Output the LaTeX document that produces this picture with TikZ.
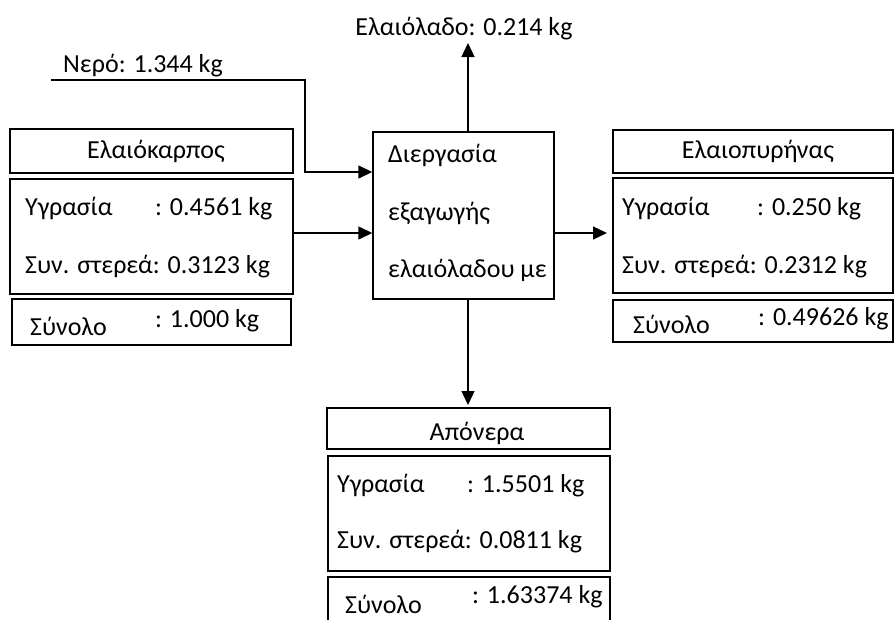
\documentclass[tikz,border=0pt]{standalone}
\usepackage{fontspec}
\setmainfont{Carlito}
\usetikzlibrary{arrows.meta}
\begin{document}
\begin{tikzpicture}[x=1pt,y=-1pt,
  box/.style={draw,line width=1.4pt,rectangle,inner sep=0pt},
  txt/.style={inner sep=0pt,anchor=base west,font=\fontsize{26}{30}\selectfont},
  ttl/.style={inner sep=0pt,anchor=base,font=\fontsize{26}{30}\selectfont},
  flow/.style={line width=1.4pt,-{Triangle[length=14pt,width=13pt]}}]
\useasboundingbox (0,0) rectangle (895,619);
\clip (0,0) rectangle (895,619);

% olive fruit (input)
\node[box,minimum width=283,minimum height=44] (ekT) at (151.5,151) {};
\node[box,minimum width=283,minimum height=115] (ekD) at (151.5,236.5) {};
\node[box,minimum width=279,minimum height=46] (ekS) at (151.5,322) {};
\node[ttl] (ekTt) at (156,158) {Ελαιόκαρπος};
\node[txt] (ekY) at (25,215) {Υγρασία};
\node[txt] (ekYv) at (155,215) {: 0.4561 kg};
\node[txt] (ekC) at (25,273) {Συν. στερεά: 0.3123 kg};
\node[txt] (ekSt) at (30,335) {Σύνολο};
\node[txt] (ekSv) at (155,327) {: 1.000 kg};

% process
\node[box,minimum width=181,minimum height=167] (proc) at (463.5,215.5) {};
\node[txt] (p1) at (388,162) {Διεργασία};
\node[txt] (p2) at (388,220) {εξαγωγής};
\node[txt] (p3) at (388,277) {ελαιόλαδου με};

% pomace (output, right)
\node[box,minimum width=280,minimum height=43] (epT) at (753,151.5) {};
\node[box,minimum width=280,minimum height=115] (epD) at (753,235.5) {};
\node[box,minimum width=280,minimum height=42] (epS) at (753,321) {};
\node[ttl] (epTt) at (758,158) {Ελαιοπυρήνας};
\node[txt] (epY) at (622,215) {Υγρασία};
\node[txt] (epYv) at (757,215) {: 0.250 kg};
\node[txt] (epC) at (622,273) {Συν. στερεά: 0.2312 kg};
\node[txt] (epSt) at (633,333) {Σύνολο};
\node[txt] (epSv) at (758,325) {: 0.49626 kg};

% waste water (output, bottom)
\node[box,minimum width=283,minimum height=41] (apT) at (468.5,428.5) {};
\node[box,minimum width=282,minimum height=115] (apD) at (469,513.5) {};
\node[box,minimum width=282,minimum height=66] (apS) at (469,610) {};
\node[ttl] (apTt) at (477,440) {Απόνερα};
\node[txt] (apY) at (337,492) {Υγρασία};
\node[txt] (apYv) at (467,492) {: 1.5501 kg};
\node[txt] (apC) at (337,548) {Συν. στερεά: 0.0811 kg};
\node[txt] (apSt) at (345,613) {Σύνολο};
\node[txt] (apSv) at (472,603) {: 1.63374 kg};

% water and oil labels
\node[txt] (water) at (63,72) {Νερό: 1.344 kg};
\node[ttl] (oil) at (464,35) {Ελαιόλαδο: 0.214 kg};

% connectors
\coordinate (w0) at (51,80);
\coordinate (w1) at (305,172);
\coordinate (oilTip) at (468,43);
\coordinate (procR) at (554,233);
\coordinate (epTip) at (607,233);
\coordinate (apTip) at (468,405);
\draw[flow] (w0) -| (w1) -- (w1 -| proc.west);
\draw[flow] (ekD.east |- 0,233) -- (proc.west |- 0,233);
\draw[flow] (oilTip |- proc.north) -- (oilTip);
\draw[flow] (procR) -- (epTip);
\draw[flow] (apTip |- proc.south) -- (apTip);
\end{tikzpicture}
\end{document}
